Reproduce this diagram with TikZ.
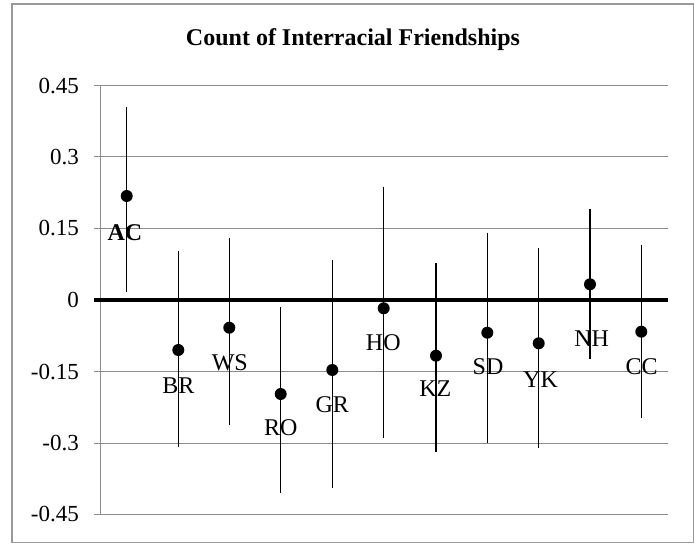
\documentclass[tikz,border=0pt]{standalone}
\usepackage{fontspec}
\setmainfont{Liberation Serif}
\begin{document}
\begin{tikzpicture}[x=1pt,y=-1pt,
  gridln/.style={draw=black!45, line width=1.3pt},
  frame/.style={draw=black!40, line width=1.5pt},
  errbar/.style={draw=black, line width=1.3pt},
  zeroln/.style={draw=black, line width=3.5pt},
  dot/.style={circle, fill=black, inner sep=0pt, minimum size=12pt},
  ticklab/.style={anchor=base east, inner sep=0pt, font=\fontsize{23}{27}\selectfont},
  catlab/.style={anchor=base, inner sep=0pt, font=\fontsize{24}{28}\selectfont},
  titlelab/.style={anchor=base, inner sep=0pt, font=\bfseries\fontsize{24}{28}\selectfont},
]
\useasboundingbox (0,0) rectangle (694,544);
\draw[frame] (12,4) rectangle (693.5,542.7);
\node[titlelab] (title) at (353,45) {Count of Interracial Friendships};
% gridlines and tick labels
\foreach \y/\t [count=\i] in {85.7/0.45, 156.7/0.3, 228.3/0.15, 371.7/-0.15, 443.3/-0.3, 514.3/-0.45}{
  \coordinate (gl\i) at (94,\y);
  \coordinate (gr\i) at (668.3,\y);
  \draw[gridln] (gl\i) -- (gr\i);
  \node[ticklab] (tick\i) at (79,\y+7.3) {\t};
}
\coordinate (axtop) at (100.7,85.7);
\coordinate (axbot) at (100.7,514.3);
\draw[gridln] (axtop) -- (axbot);
\coordinate (zl) at (94,300);
\coordinate (zr) at (668.3,300);
\draw[zeroln] (zl) -- (zr);
\node[ticklab] (tick0) at (79,307) {0};
% error bars, dots, labels
\foreach \n/\x/\d/\t/\b/\l in {
  AC/126.7/196/106.7/291.7/240,
  BR/178.3/350/250.7/446.7/393.3,
  WS/229.3/327.7/238.3/425/370,
  RO/280.7/394/307.3/493.3/435,
  GR/332.3/370/260/488.3/412.7,
  HO/383.7/308.3/186.7/438.3/350.7,
  KZ/436/355.7/263.3/451.7/396.7,
  SD/487.3/332.7/232.7/442.7/374,
  YK/538.7/343.3/247.7/448.3/387.3,
  NH/590/284.3/209.3/359.3/346.7,
  CC/641.3/331.7/245/418.3/374}{
  \coordinate (top\n) at (\x,\t);
  \coordinate (bot\n) at (\x,\b);
  \draw[errbar] (top\n) -- (bot\n);
  \node[dot] (dot\n) at (\x,\d) {};
}
\node[catlab, font=\bfseries\fontsize{24}{28}\selectfont] (labAC) at (125,240) {AC};
\node[catlab] (labBR) at (178.3,393.3) {BR};
\node[catlab] (labWS) at (229.8,370) {WS};
\node[catlab] (labRO) at (280.7,435) {RO};
\node[catlab] (labGR) at (332.3,412.7) {GR};
\node[catlab] (labHO) at (383.3,350.7) {HO};
\node[catlab] (labKZ) at (435.3,396.7) {KZ};
\node[catlab] (labSD) at (488,374) {SD};
\node[catlab] (labYK) at (540.5,387.3) {YK};
\node[catlab] (labNH) at (591.7,346.7) {NH};
\node[catlab] (labCC) at (641.7,374) {CC};
\end{tikzpicture}
\end{document}
